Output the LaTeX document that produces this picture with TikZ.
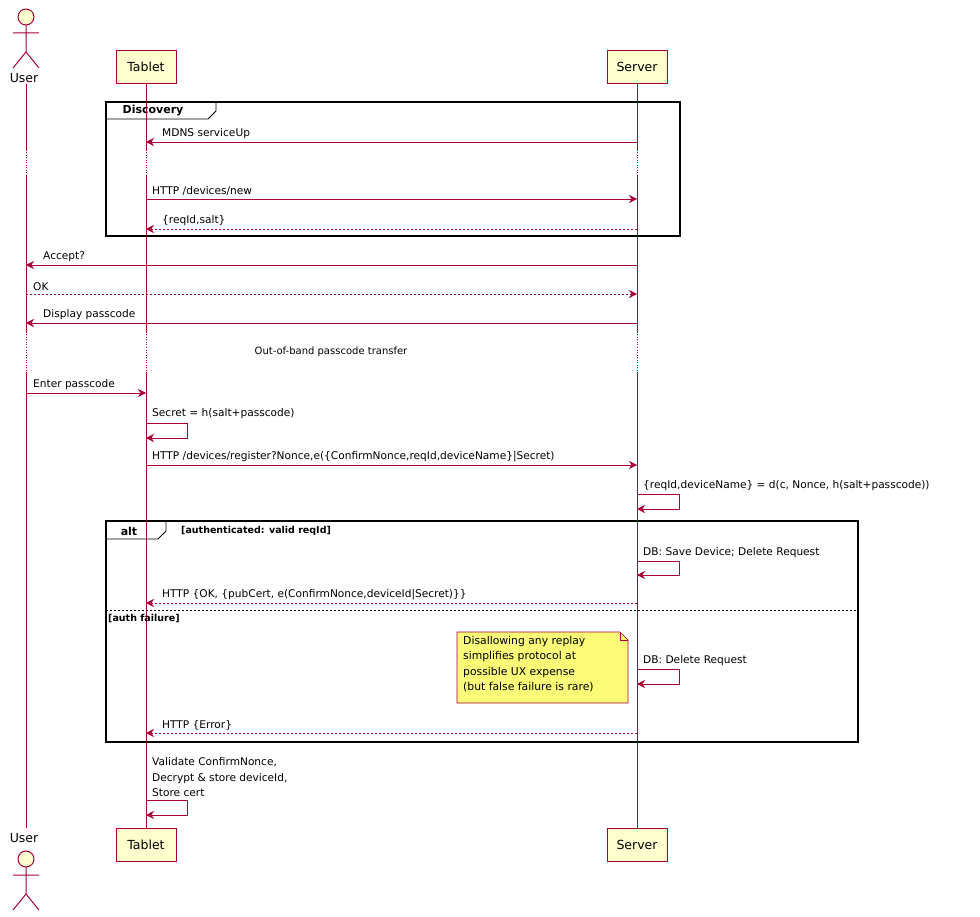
\documentclass[tikz,border=0pt]{standalone}
\usepackage{fontspec}
\setmainfont{DejaVu Sans}
\usetikzlibrary{arrows.meta}
\definecolor{pred}{HTML}{A80036}
\definecolor{pfill}{HTML}{FEFECE}
\definecolor{nfill}{HTML}{FBFB77}
\begin{document}
\begin{tikzpicture}[x=1pt,y=-1pt,
 part/.style={draw=pred,fill=pfill,line width=0.8pt,minimum width=60pt,minimum height=33pt,font=\fontsize{12.5}{14}\selectfont},
 life/.style={draw=pred,line width=0.5pt},
 dly/.style={draw=pred,line width=0.5pt,dotted},
 msg/.style={draw=pred,line width=0.6pt,-{Stealth[length=8pt,width=8pt]}},
 rmsg/.style={msg,dashed,dash pattern=on 2pt off 2pt},
 lbl/.style={font=\fontsize{10.6}{13}\selectfont,anchor=south west,inner sep=1pt,align=left},
 grp/.style={draw=black,line width=1.4pt},
 tab/.style={font=\bfseries\fontsize{11}{12}\selectfont,inner sep=1pt},
 guard/.style={font=\bfseries\fontsize{9.5}{10}\selectfont,anchor=west,inner sep=1pt},
 actor/.style={draw=pred,fill=pfill,line width=1pt},
 albl/.style={font=\fontsize{12.5}{14}\selectfont}]
\useasboundingbox (0,0) rectangle (980,917);
% lifelines
\foreach \x in {26,146,637}{
 \draw[life] (\x,84) -- (\x,150); \draw[dly] (\x,150) -- (\x,176);
 \draw[life] (\x,176) -- (\x,332); \draw[dly] (\x,332) -- (\x,372);
 \draw[life] (\x,372) -- (\x,828);}
% participants
\node[part] (t1) at (146,67) {Tablet};
\node[part] (s1) at (637,67) {Server};
\node[part] (t2) at (146,845) {Tablet};
\node[part] (s2) at (637,845) {Server};
% actors
\draw[actor] (26,17) circle (8);
\draw[actor] (26,25) -- (26,52) (13,33) -- (39,33) (26,52) -- (13,68) (26,52) -- (39,68);
\node[albl] (u1) at (24,78) {User};
\draw[actor] (26,859) circle (8);
\draw[actor] (26,867) -- (26,894) (13,875) -- (39,875) (26,894) -- (13,910) (26,894) -- (39,910);
\node[albl] (u2) at (24,838) {User};
% Discovery group
\draw[grp] (106,102) rectangle (680,236);
\draw[line width=0.8pt] (106,119) -- (208,119) -- (216,111) -- (216,102);
\node[tab] (gd) at (153,111) {Discovery};
\draw[msg] (637,142) -- (146,142); \node[lbl] (m1) at (161,140) {MDNS serviceUp};
\draw[msg] (146,199) -- (637,199); \node[lbl] (m2) at (151,197) {HTTP /devices/new};
\draw[rmsg] (637,229) -- (146,229); \node[lbl] (m3) at (161,227) {\{reqId,salt\}};
\draw[msg] (637,265) -- (26,265); \node[lbl] (m4) at (42,263) {Accept?};
\draw[rmsg] (26,294) -- (637,294); \node[lbl] (m5) at (32,292) {OK};
\draw[msg] (637,323) -- (26,323); \node[lbl] (m6) at (42,321) {Display passcode};
\node[font=\fontsize{10}{12}\selectfont] (dl) at (331,352) {Out-of-band passcode transfer};
\draw[msg] (26,393) -- (146,393); \node[lbl] (m7) at (32,391) {Enter passcode};
\draw[msg] (146,423) -- (187,423) -- (187,438) -- (146,438); \node[lbl] (m8) at (151,420) {Secret = h(salt+passcode)};
\draw[msg] (146,465) -- (637,465); \node[lbl] (m9) at (151,463) {HTTP /devices/register?Nonce,e(\{ConfirmNonce,reqId,deviceName\}|Secret)};
\draw[msg] (637,494) -- (679,494) -- (679,509) -- (637,509); \node[lbl] (m10) at (642,492) {\{reqId,deviceName\} = d(c, Nonce, h(salt+passcode))};
% alt group
\draw[grp] (106,521) rectangle (858,742);
\draw[line width=0.8pt] (106,539) -- (158,539) -- (166,531) -- (166,521);
\node[tab] (ga) at (129,531) {alt};
\node[guard] (g1) at (180,531) {[authenticated: valid reqId]};
\draw[msg] (637,561) -- (679,561) -- (679,575) -- (637,575); \node[lbl] (m11) at (642,559) {DB: Save Device; Delete Request};
\draw[rmsg] (637,603) -- (146,603); \node[lbl] (m12) at (161,601) {HTTP \{OK, \{pubCert, e(ConfirmNonce,deviceId|Secret)\}\}};
\draw[line width=0.6pt,dash pattern=on 2pt off 2pt] (106,610) -- (858,610);
\node[guard] (g2) at (107,619) {[auth failure]};
\draw[draw=pred,fill=nfill,line width=0.6pt] (457,632) -- (620,632) -- (628,640) -- (628,703) -- (457,703) -- cycle;
\draw[draw=pred,line width=0.6pt] (620,632) -- (620,640) -- (628,640);
\node[font=\fontsize{10.8}{15.5}\selectfont,align=left,anchor=north west,inner sep=0pt] (nt) at (463,636) {Disallowing any replay\\simplifies protocol at\\possible UX expense\\(but false failure is rare)};
\draw[msg] (637,669) -- (679,669) -- (679,684) -- (637,684); \node[lbl] (m13) at (642,667) {DB: Delete Request};
\draw[rmsg] (637,733) -- (146,733); \node[lbl] (m14) at (161,731) {HTTP \{Error\}};
\draw[msg] (146,800) -- (187,800) -- (187,815) -- (146,815);
\node[lbl,font=\fontsize{10.6}{15.5}\selectfont] (m15) at (151,798) {Validate ConfirmNonce,\\Decrypt \& store deviceId,\\Store cert};
\end{tikzpicture}
\end{document}
